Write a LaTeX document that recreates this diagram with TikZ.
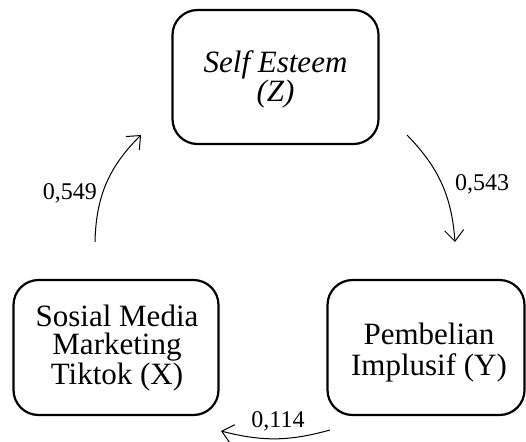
\documentclass[tikz,border=0pt]{standalone}
\usepackage{fontspec}
\setmainfont{Liberation Serif}
\usetikzlibrary{arrows.meta}
\begin{document}
\begin{tikzpicture}[x=1pt,y=-1pt,
  varbox/.style={draw, line width=2.2pt, rounded corners=25pt},
  boxtext/.style={align=center, font=\fontsize{31}{28}\selectfont, inner sep=0pt},
  coef/.style={font=\fontsize{24}{28}\selectfont, inner sep=0pt},
  path/.style={line width=1pt, -{Straight Barb[length=11pt,width=19pt,line width=1pt]}}]
\useasboundingbox (0,0) rectangle (526,441);
\node[varbox, minimum width=206pt, minimum height=134pt] (Z) at (275.5,77) {};
\node[boxtext] (Zt) at (275.5,79) {\textit{Self Esteem}\\\textit{(Z)}};
\node[varbox, minimum width=205pt, minimum height=135pt] (X) at (116,347.5) {};
\node[boxtext] (Xt) at (117,348) {Sosial Media\\Marketing\\Tiktok (X)};
\node[varbox, minimum width=197pt, minimum height=135pt] (Y) at (426,347.5) {};
\node[boxtext, font=\fontsize{31}{31}\selectfont] (Yt) at (429,353) {Pembelian\\Implusif (Y)};
\coordinate (a1) at (95,242);
\coordinate (b1) at (141,135);
\coordinate (a2) at (407,135);
\coordinate (b2) at (455,242);
\coordinate (a3) at (330,430);
\coordinate (b3) at (221,431);
\draw[path] (a1) to[bend left=22] (b1);
\draw[path] (a2) to[bend left=20] (b2);
\draw[path] (a3) to[bend left=15] (b3);
\node[coef, anchor=east] (l1) at (97,193) {0,549};
\node[coef] (l2) at (482,184) {0,543};
\node[coef] (l3) at (278,421) {0,114};
\end{tikzpicture}
\end{document}
